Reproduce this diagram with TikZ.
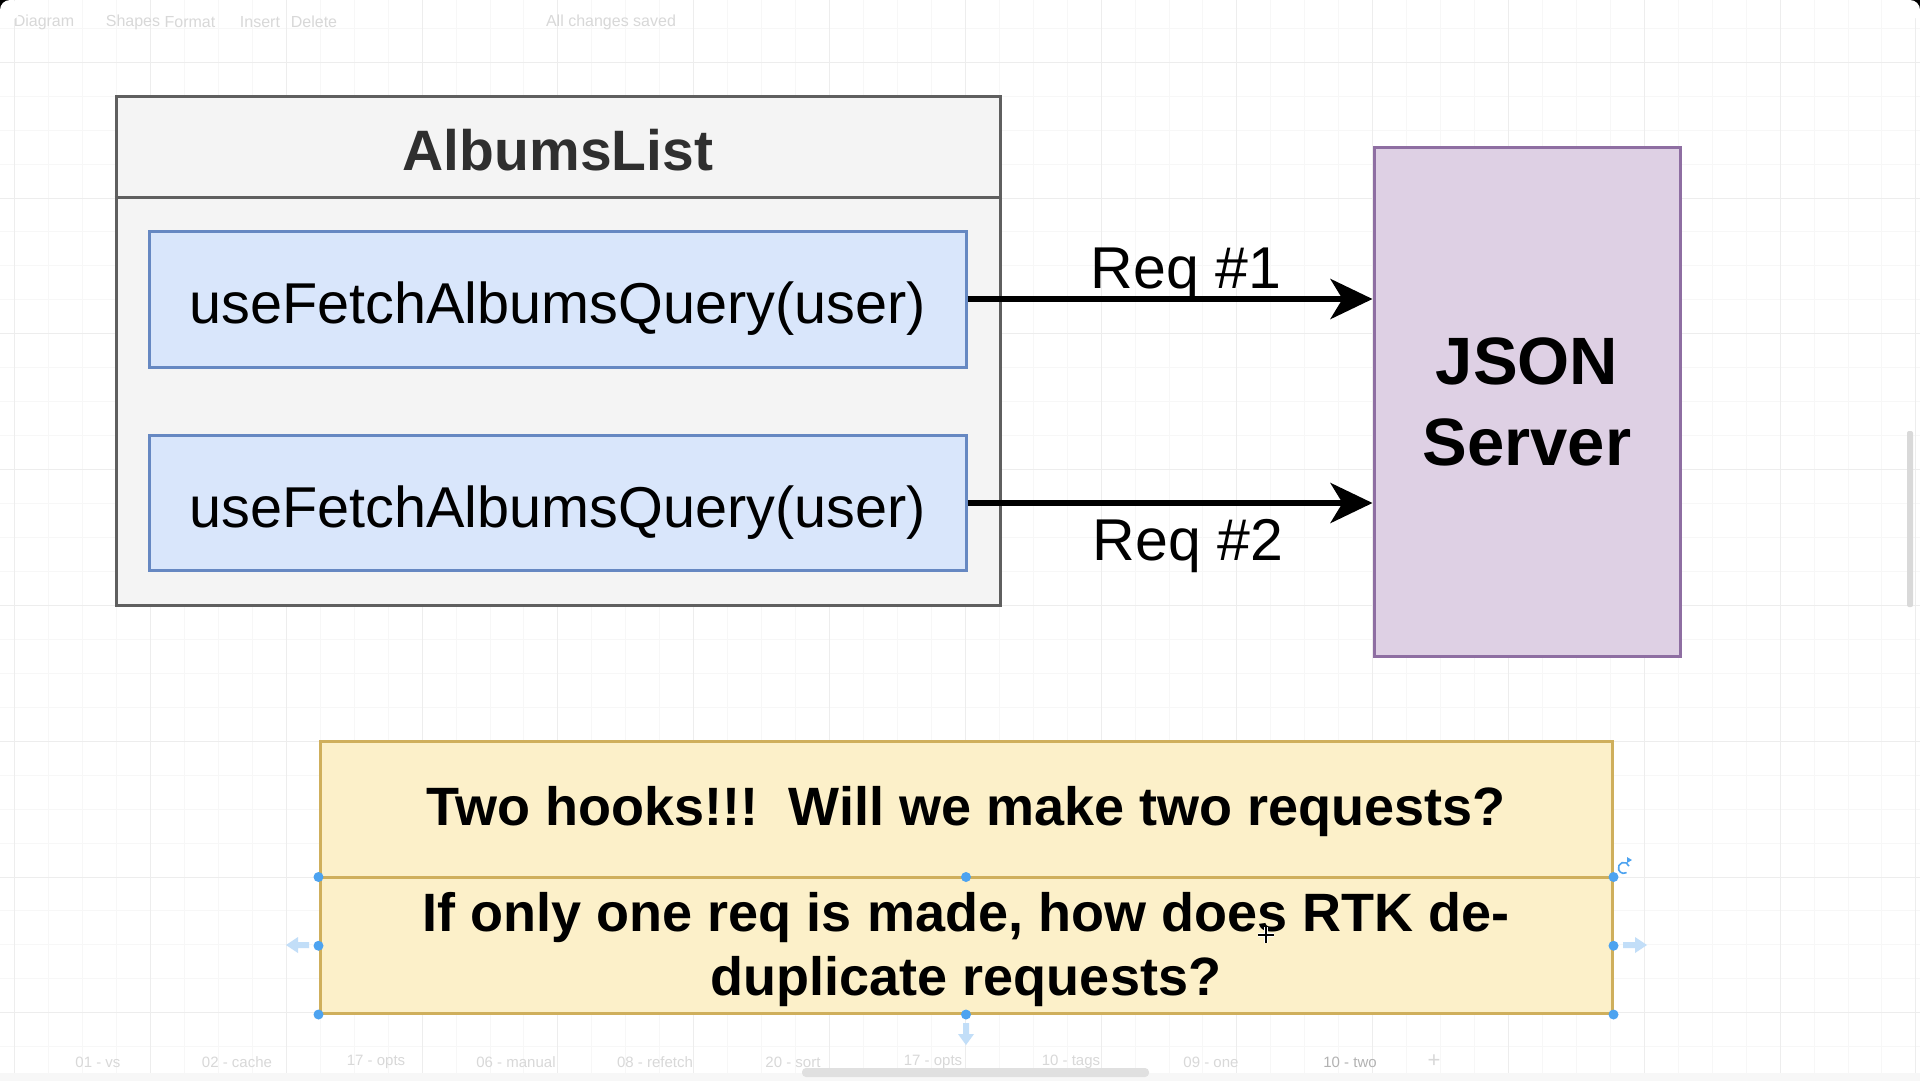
\documentclass[tikz,border=0pt]{standalone}
\usepackage{fontspec}
\setmainfont{Liberation Sans}
\usetikzlibrary{arrows.meta,calc}
\definecolor{albfill}{HTML}{F4F4F4}
\definecolor{albdraw}{HTML}{5F5F5F}
\definecolor{albtext}{HTML}{2F2F2F}
\definecolor{hookfill}{HTML}{D9E6FB}
\definecolor{hookdraw}{HTML}{6688C2}
\definecolor{srvfill}{HTML}{DED0E4}
\definecolor{srvdraw}{HTML}{8E6EA2}
\definecolor{qfill}{HTML}{FCF0C9}
\definecolor{qdraw}{HTML}{CFAF5C}
\definecolor{gridminor}{HTML}{F7F7F7}
\definecolor{gridmajor}{HTML}{EDEDED}
\definecolor{uitext}{HTML}{D8D8D8}
\definecolor{handleblue}{HTML}{4DA3F0}
\definecolor{hoverblue}{HTML}{C2DEF8}
\tikzset{
  panel/.style={draw, line width=3pt, inner sep=0pt},
  albbox/.style={panel, fill=albfill, draw=albdraw},
  hookbox/.style={panel, fill=hookfill, draw=hookdraw, text height=49pt, text depth=0pt, font=\fontsize{57.6}{69}\selectfont},
  srvbox/.style={panel, fill=srvfill, draw=srvdraw, align=center, font=\fontsize{67}{81}\selectfont\bfseries},
  qbox/.style={panel, fill=qfill, draw=qdraw},
  qtext/.style={align=center, inner sep=0pt, font=\fontsize{54}{64}\selectfont\bfseries},
  reqlabel/.style={inner sep=0pt, font=\fontsize{59}{70}\selectfont},
  reqarrow/.style={line width=6pt, -{Stealth[length=42pt, width=40pt, inset=12pt]}},
  uilabel/.style={text=uitext, inner sep=0pt, font=\fontsize{16}{19}\selectfont},
  tablabel/.style={text=uitext, inner sep=0pt, font=\fontsize{15}{18}\selectfont},
  handle/.style={fill=handleblue},
  hover/.style={fill=hoverblue},
}
\begin{document}
\begin{tikzpicture}[x=1pt,y=-1pt]
\useasboundingbox (0,0) rectangle (1920,1080);
\fill[white] (0,0) rectangle (1920,1080);
% grid
\foreach \i in {0,...,56} {
  \pgfmathsetmacro\xx{14.7+33.95*\i}
  \draw[gridminor, line width=1pt] (\xx,0) -- (\xx,1080);
}
\foreach \k in {0,...,31} {
  \pgfmathsetmacro\yy{28.25+33.95*\k}
  \draw[gridminor, line width=1pt] (0,\yy) -- (1920,\yy);
}
\foreach \i in {0,...,14} {
  \pgfmathsetmacro\xx{14.7+135.8*\i}
  \draw[gridmajor, line width=1pt] (\xx,0) -- (\xx,1080);
}
\foreach \k in {0,...,7} {
  \pgfmathsetmacro\yy{62.2+135.8*\k}
  \draw[gridmajor, line width=1pt] (0,\yy) -- (1920,\yy);
}
% toolbar
\node[uilabel] (tbdiagram) at (44,22) {Diagram};
\node[uilabel] (tbshapes) at (133,22) {Shapes};
\node[uilabel] (tbformat) at (190,22) {Format};
\node[uilabel] (tbinsert) at (260,22) {Insert};
\node[uilabel] (tbdelete) at (314,22) {Delete};
\node[uilabel] (tbsaved) at (611,22) {All changes saved};
% bottom bar
\fill[white!97!black] (0,1073) rectangle (1920,1080);
\fill[white!88!black, rounded corners=4pt] (802,1068) rectangle (1149,1077);
\node[tablabel] (t1) at (98,1062) {01 - vs};
\node[tablabel] (t2) at (237,1062) {02 - cache};
\node[tablabel] (t3) at (376,1062) {17 - opts};
\node[tablabel] (t4) at (516,1062) {06 - manual};
\node[tablabel] (t5) at (655,1062) {08 - refetch};
\node[tablabel] (t6) at (793,1062) {20 - sort};
\node[tablabel] (t7) at (933,1062) {17 - opts};
\node[tablabel] (t8) at (1071,1062) {10 - tags};
\node[tablabel] (t9) at (1211,1062) {09 - one};
\node[tablabel, text=white!70!black] (t10) at (1350,1062) {10 - two};
\node[tablabel, font=\fontsize{22}{22}\selectfont] (tplus) at (1434,1061) {+};
% right scrollbar
\fill[white!85!black, rounded corners=2pt] (1907,431) rectangle (1913,607);
% window corners
\fill[black] (0,0) rectangle (10,10);
\fill[white] (10,10) circle (10);
\fill[black] (1910,0) rectangle (1920,10);
\fill[white] (1910,10) circle (10);

% AlbumsList container
\node[albbox, minimum width=884pt, minimum height=509pt] (albums) at (558,350.5) {};
\draw[albdraw, line width=3pt] (albums.west |- 0,197) -- (albums.east |- 0,197);
\node[text=albtext, inner sep=0pt, font=\fontsize{57}{68}\selectfont\bfseries] (albtitle) at (558,150) {AlbumsList};
\node[hookbox, minimum width=817pt, minimum height=136pt] (hook1) at (557.5,299) {useFetchAlbumsQuery(user)};
\node[hookbox, minimum width=817pt, minimum height=135pt] (hook2) at (557.5,503) {useFetchAlbumsQuery(user)};

% JSON server
\node[srvbox, minimum width=306pt, minimum height=509pt] (server) at (1527,401.5) {JSON\\Server};

% requests
\draw[reqarrow] (hook1.east) -- (server.west |- hook1.east);
\draw[reqarrow] (hook2.east) -- (server.west |- hook2.east);
\node[reqlabel] (req1) at (1186,274) {Req \#1};
\node[reqlabel] (req2) at (1188,546) {Req \#2};

% question box
\node[qbox, minimum width=1292pt, minimum height=272pt] (qbox) at (966,877) {};
\draw[qdraw, line width=3pt] (qbox.west) -- (qbox.east);
\node[qtext] (q1) at (966,812) {Two hooks!!!\ \ Will we make two requests?};
\node[qtext] (q2) at (966,950) {If only one req is made, how does RTK de-\\duplicate requests?};

% selection handles
\coordinate (hmidl) at ($(qbox.west)!0.5!(qbox.south west)$);
\coordinate (hmidr) at ($(qbox.east)!0.5!(qbox.south east)$);
\foreach \p in {qbox.west, qbox.center, qbox.east, hmidl, hmidr, qbox.south west, qbox.south, qbox.south east}
  \fill[handle] (\p) circle (5);
% hover arrows
\fill[hover] (286,945) -- (298,937) -- (298,942) -- (309,942) -- (309,948) -- (298,948) -- (298,953) -- cycle;
\fill[hover] (1647,945) -- (1635,937) -- (1635,942) -- (1623,942) -- (1623,948) -- (1635,948) -- (1635,953) -- cycle;
\fill[hover] (966,1045) -- (958,1034) -- (963,1034) -- (963,1023) -- (969,1023) -- (969,1034) -- (974,1034) -- cycle;
% rotate icon
\draw[handleblue, line width=1.6pt] (1629,866) arc[start angle=-20, end angle=-300, radius=5.5];
\fill[handleblue] (1627,857) -- (1632,860) -- (1627,863) -- cycle;
% move cursor
\draw[white, line width=4pt] (1258,935) -- (1274,935) (1266,927) -- (1266,943);
\draw[black, line width=1.5pt] (1258,935) -- (1274,935) (1266,927) -- (1266,943);
\end{tikzpicture}
\end{document}
